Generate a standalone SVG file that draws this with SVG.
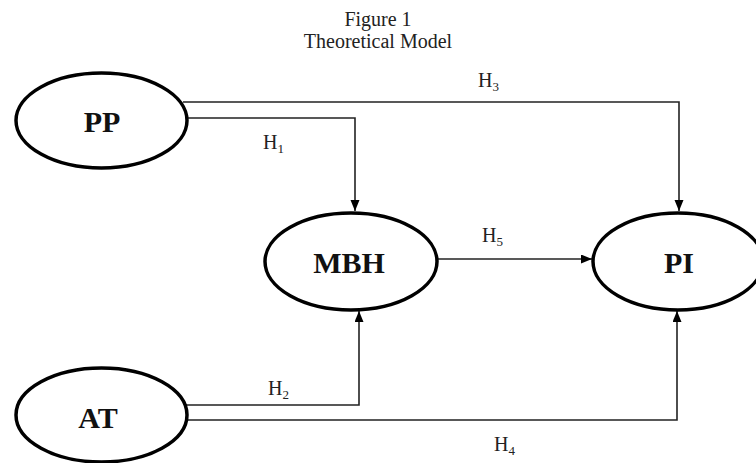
<svg xmlns="http://www.w3.org/2000/svg" width="756" height="463" viewBox="0 0 756 463">
  <style>
    .title { font-family: "Liberation Serif", "Times New Roman", serif; font-size: 20px; fill: #222; text-anchor: middle; }
    .node ellipse { fill: #fff; stroke: #000; stroke-width: 3.5; }
    .node text { font-family: "Liberation Serif", "Times New Roman", serif; font-size: 30px; font-weight: bold; fill: #111; text-anchor: middle; }
    .conn path { fill: none; stroke: #222; stroke-width: 1.6; }
    .lbl { font-family: "Liberation Serif", "Times New Roman", serif; font-size: 20px; fill: #222; }
    .sub { font-size: 13px; }
  </style>
  <defs>
    <marker id="arr" markerUnits="userSpaceOnUse" markerWidth="12" markerHeight="10" refX="11" refY="4.5" orient="auto">
      <path d="M0,0 L11,4.5 L0,9 z" fill="#000"/>
    </marker>
  </defs>
  <rect width="756" height="463" fill="#fff"/>
  <g id="title">
    <text class="title" x="378" y="26">Figure 1</text>
    <text class="title" x="378" y="48">Theoretical Model</text>
  </g>
  <g id="connectors" class="conn">
    <path d="M183,102 H679 V211" marker-end="url(#arr)"/>
    <path d="M188,118 H355 V211" marker-end="url(#arr)"/>
    <path d="M186,405 H359 V311" marker-end="url(#arr)"/>
    <path d="M187,420 H677 V311" marker-end="url(#arr)"/>
    <path d="M437,259 H592" marker-end="url(#arr)"/>
  </g>
  <g id="labels">
    <text class="lbl" x="478" y="87">H<tspan class="sub" dy="4">3</tspan></text>
    <text class="lbl" x="263" y="149">H<tspan class="sub" dy="4">1</tspan></text>
    <text class="lbl" x="482" y="242">H<tspan class="sub" dy="4">5</tspan></text>
    <text class="lbl" x="268" y="395">H<tspan class="sub" dy="4">2</tspan></text>
    <text class="lbl" x="494" y="451">H<tspan class="sub" dy="4">4</tspan></text>
  </g>
  <g id="PP" class="node">
    <ellipse cx="101.5" cy="120.5" rx="85.5" ry="47.5"/>
    <text x="102" y="132">PP</text>
  </g>
  <g id="MBH" class="node">
    <ellipse cx="351" cy="261.5" rx="86" ry="48.5"/>
    <text x="349" y="273">MBH</text>
  </g>
  <g id="PI" class="node">
    <ellipse cx="678" cy="261.5" rx="85" ry="48.5"/>
    <text x="679" y="273">PI</text>
  </g>
  <g id="AT" class="node">
    <ellipse cx="101.5" cy="415" rx="85.5" ry="47"/>
    <text x="98" y="428">AT</text>
  </g>
</svg>
